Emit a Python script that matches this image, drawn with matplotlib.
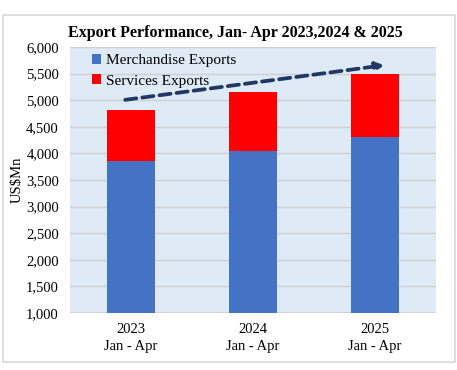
import matplotlib.pyplot as plt
from matplotlib.patches import Rectangle

plt.rcParams['font.family'] = ['Liberation Serif', 'DejaVu Serif']

periods = ['2023\nJan - Apr', '2024\nJan - Apr', '2025\nJan - Apr']
merchandise = [3850, 4045, 4310]
services = [970, 1115, 1190]

# trend arrow (category position, value)
trend_x = [-0.07, 2.1]
trend_y = [5000, 5665]

fig = plt.figure(figsize=(4.57, 3.70), dpi=100)
ax = fig.add_axes([70 / 457, 1 - 313 / 370, 366 / 457, 266 / 370])

x = range(len(periods))
ax.bar(x, merchandise, width=0.4, color='#4472C4', label='Merchandise Exports', zorder=3)
ax.bar(x, services, width=0.4, bottom=merchandise, color='#FF0000', label='Services Exports', zorder=3)

ax.annotate('', xy=(trend_x[1], trend_y[1]), xytext=(trend_x[0], trend_y[0]),
            arrowprops=dict(arrowstyle='-|>', color='#1F3864', lw=2.7,
                            linestyle=(0, (3, 1.6)), mutation_scale=12),
            zorder=4)

ax.set_facecolor('#DEEAF6')
ax.set_xlim(-0.5, 2.5)
ax.set_ylim(1000, 6000)
ax.set_yticks(range(1000, 6001, 500))
ax.set_yticklabels([f'{v:,}' for v in range(1000, 6001, 500)], fontsize=10.5)
ax.set_xticks(list(x))
ax.set_xticklabels(periods, fontsize=10.5, linespacing=1.4)
ax.tick_params(length=0, pad=7)
ax.tick_params(axis='y', pad=8)
ax.grid(axis='y', color='#D0D0D0', lw=1, zorder=0)
for s in ax.spines.values():
    s.set_visible(False)
ax.axhline(1000, color='#D0D0D0', lw=1.2, zorder=2)
ax.set_ylabel('US$Mn', fontsize=10.5, labelpad=2)

ax.legend(loc='upper left', bbox_to_anchor=(0.03, 1.013), frameon=False, fontsize=11,
          handlelength=0.6, handleheight=0.6, handletextpad=0.35, labelspacing=0.45,
          borderaxespad=0.3)

fig.text(235 / 457, 1 - 33 / 370, 'Export Performance, Jan- Apr 2023,2024 & 2025',
         ha='center', va='center', fontsize=11.5, fontweight='bold')

fig.patches.append(Rectangle((3 / 457, 1 - 362 / 370), 452 / 457, 347 / 370,
                             transform=fig.transFigure, fill=False,
                             edgecolor='#D9D9D9', lw=1.2))

plt.savefig('out.png', dpi=100)
plt.close()
